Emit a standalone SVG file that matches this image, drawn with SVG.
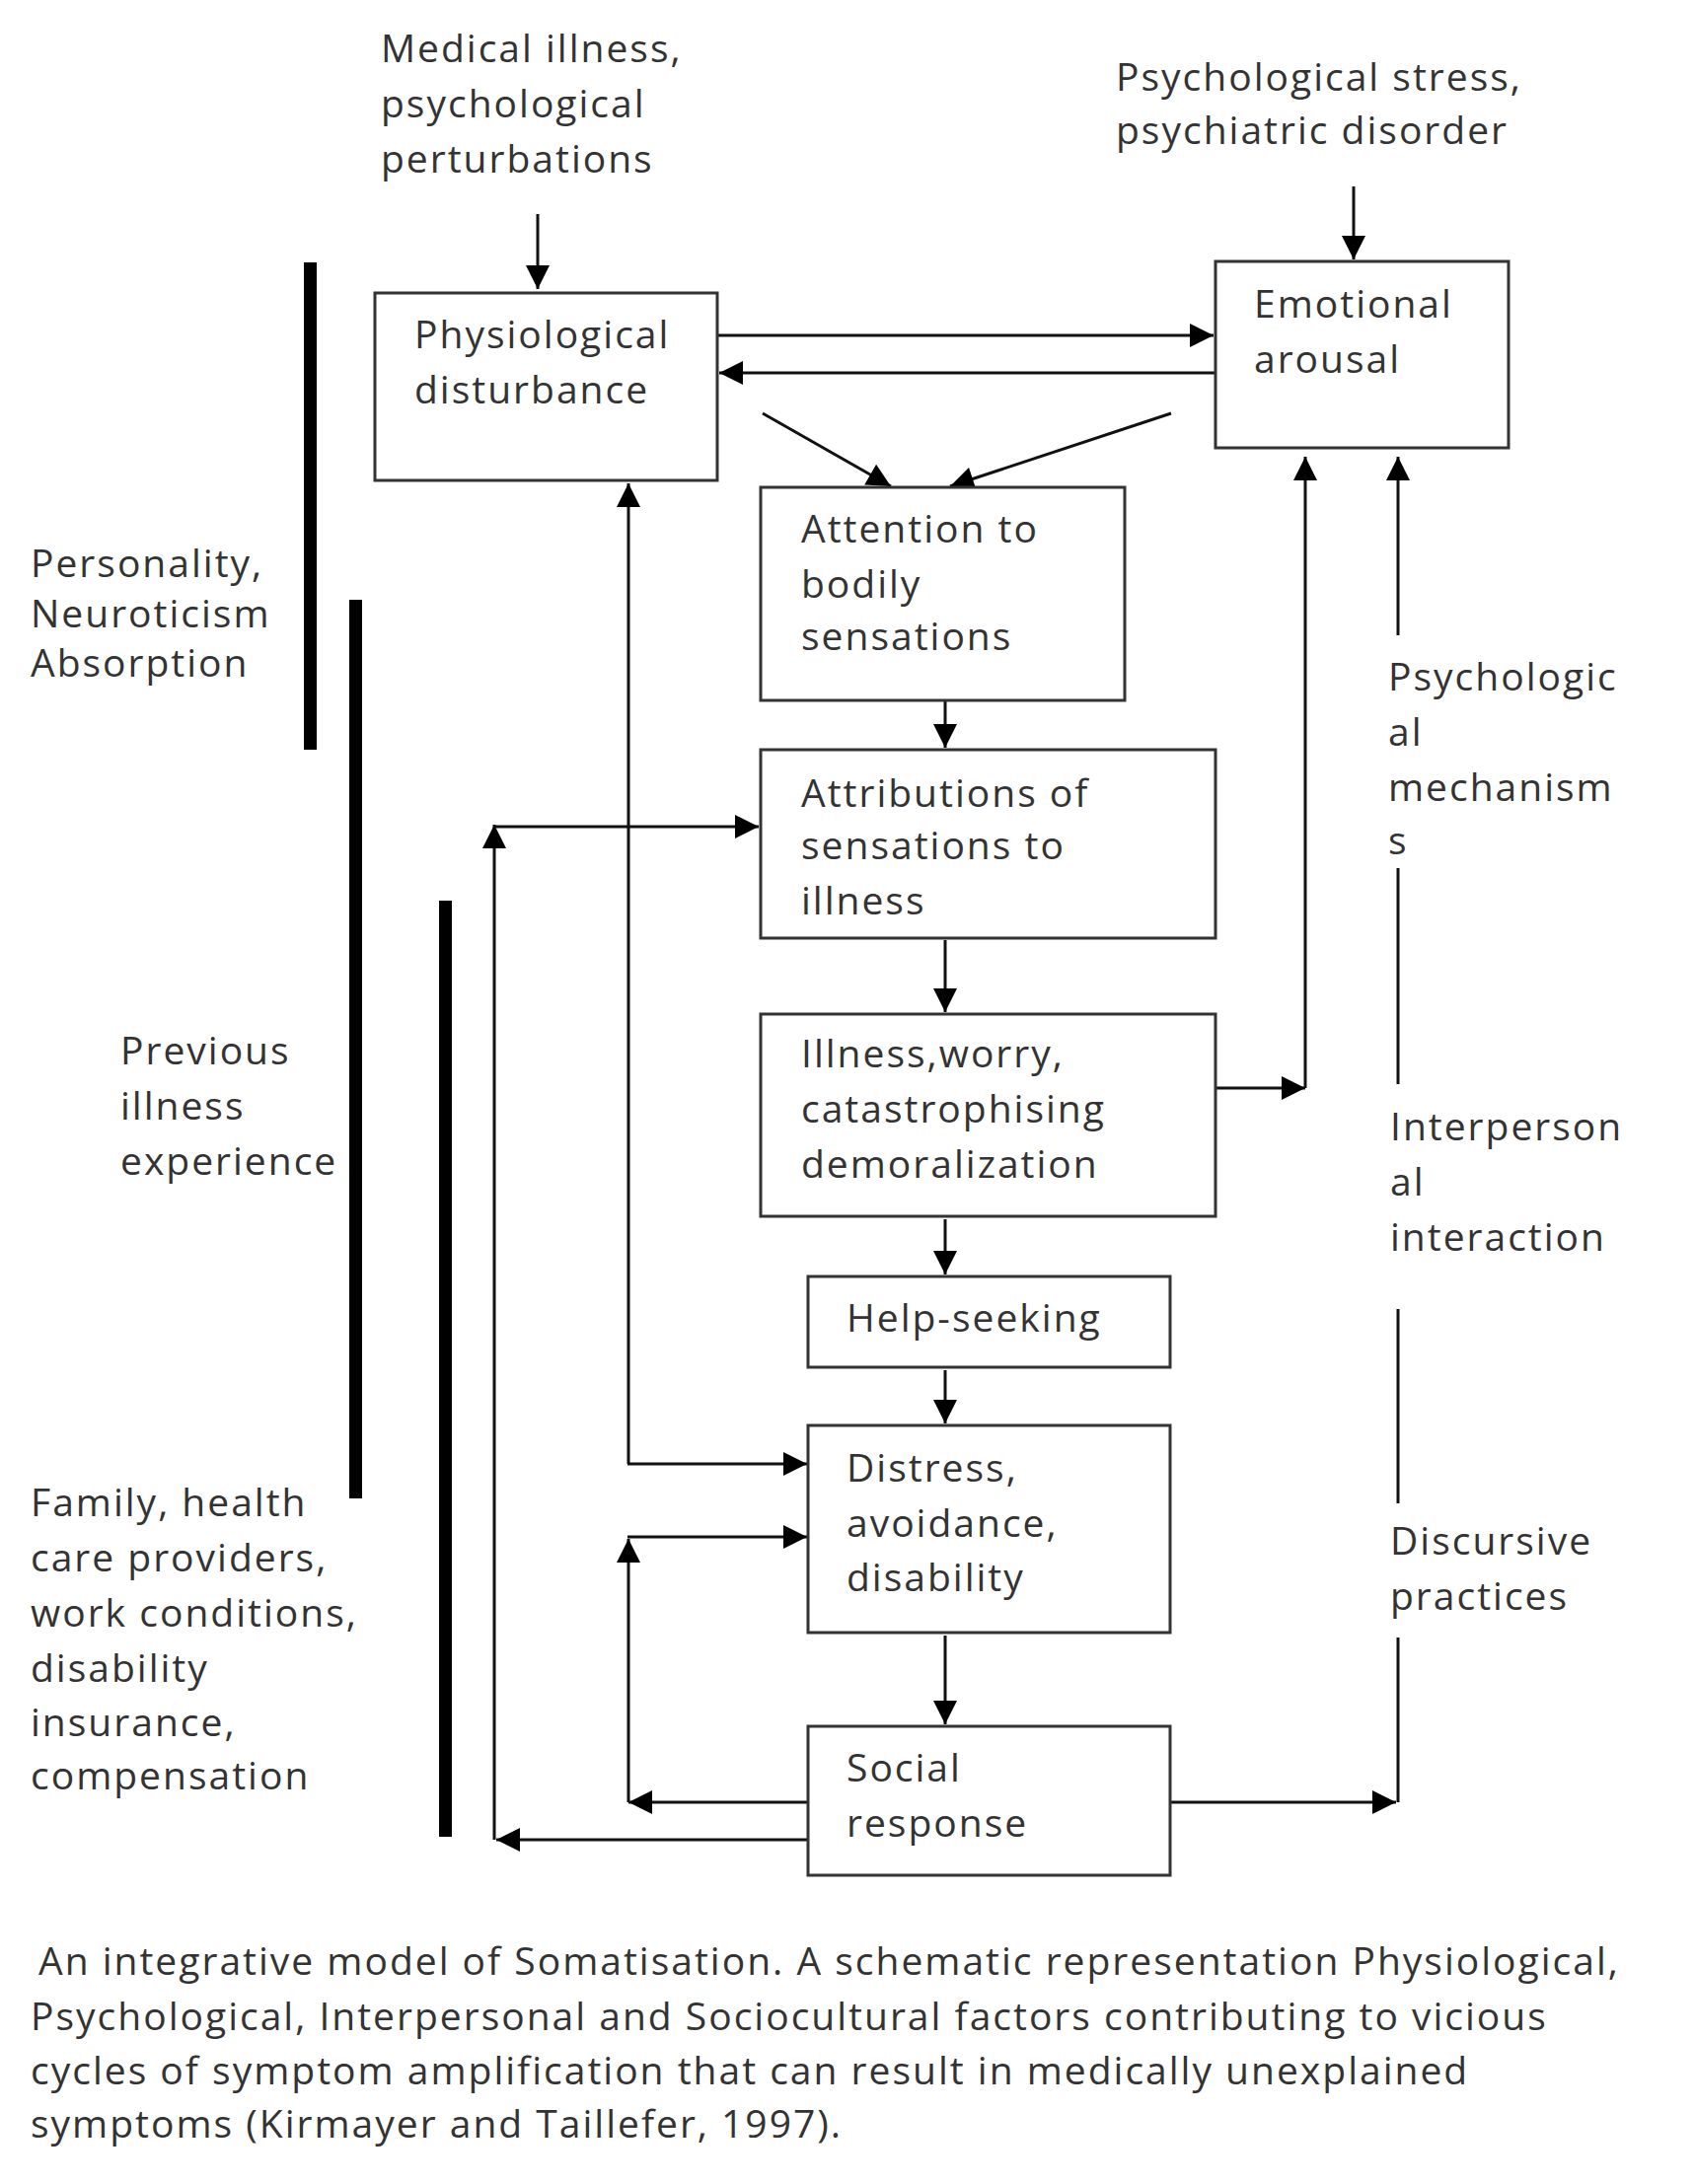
<svg xmlns="http://www.w3.org/2000/svg" width="1717" height="2214" viewBox="0 0 1717 2214">
<style>
text{font-family:"Open Sans","Liberation Sans",sans-serif;font-size:39px;letter-spacing:2px;fill:#333}
.box{fill:#fff;stroke:#333;stroke-width:3}
.c{stroke:#111;stroke-width:3;fill:none}
.bar{fill:#000}
</style>
<defs><marker id="b" viewBox="0 0 10 10" refX="10" refY="5" markerWidth="30" markerHeight="24" markerUnits="userSpaceOnUse" orient="auto"><path d="M0,0L10,5L0,10z" fill="#000"/></marker></defs>
<rect width="1717" height="2214" fill="#fff"/>
<g id="bars"><rect class="bar" x="308" y="266" width="13" height="494"/><rect class="bar" x="354" y="608" width="13" height="911"/><rect class="bar" x="445" y="913" width="13" height="949"/></g>
<g id="connectors">
<line class="c" x1="545" y1="217" x2="545" y2="293" marker-end="url(#b)"/>
<line class="c" x1="1372" y1="189" x2="1372" y2="263" marker-end="url(#b)"/>
<line class="c" x1="727" y1="340" x2="1230" y2="340" marker-end="url(#b)"/>
<line class="c" x1="1232" y1="378" x2="729" y2="378" marker-end="url(#b)"/>
<line class="c" x1="773" y1="419" x2="903" y2="493" marker-end="url(#b)"/>
<line class="c" x1="1187" y1="419" x2="963" y2="493" marker-end="url(#b)"/>
<line class="c" x1="958" y1="686" x2="958" y2="758" marker-end="url(#b)"/>
<line class="c" x1="958" y1="953" x2="958" y2="1026" marker-end="url(#b)"/>
<line class="c" x1="958" y1="1236" x2="958" y2="1292" marker-end="url(#b)"/>
<line class="c" x1="958" y1="1389" x2="958" y2="1443" marker-end="url(#b)"/>
<line class="c" x1="958" y1="1658" x2="958" y2="1748" marker-end="url(#b)"/>
<line class="c" x1="1232" y1="1103" x2="1323" y2="1103" marker-end="url(#b)"/>
<line class="c" x1="1323" y1="1103" x2="1323" y2="463" marker-end="url(#b)"/>
<line class="c" x1="1417" y1="644" x2="1417" y2="463" marker-end="url(#b)"/>
<line class="c" x1="1417" y1="880" x2="1417" y2="1099"/>
<line class="c" x1="1417" y1="1327" x2="1417" y2="1524"/>
<line class="c" x1="1417" y1="1660" x2="1417" y2="1827"/>
<line class="c" x1="1186" y1="1827" x2="1415" y2="1827" marker-end="url(#b)"/>
<line class="c" x1="637" y1="1484" x2="637" y2="490" marker-end="url(#b)"/>
<line class="c" x1="636" y1="1484" x2="818" y2="1484" marker-end="url(#b)"/>
<line class="c" x1="819" y1="1827" x2="637" y2="1827" marker-end="url(#b)"/>
<line class="c" x1="637" y1="1827" x2="637" y2="1560" marker-end="url(#b)"/>
<line class="c" x1="636" y1="1558" x2="818" y2="1558" marker-end="url(#b)"/>
<line class="c" x1="819" y1="1865" x2="503" y2="1865" marker-end="url(#b)"/>
<line class="c" x1="501" y1="1865" x2="501" y2="836" marker-end="url(#b)"/>
<line class="c" x1="500" y1="838" x2="769" y2="838" marker-end="url(#b)"/>
</g>
<g id="phys"><rect class="box" x="380" y="297" width="347" height="190"/><text x="420" y="353">Physiological</text><text x="420" y="409">disturbance</text></g>
<g id="emot"><rect class="box" x="1232" y="265" width="297" height="189"/><text x="1271" y="322">Emotional</text><text x="1271" y="378">arousal</text></g>
<g id="att"><rect class="box" x="771" y="494" width="369" height="216"/><text x="812" y="550">Attention to</text><text x="812" y="606">bodily</text><text x="812" y="659">sensations</text></g>
<g id="attr"><rect class="box" x="771" y="760" width="461" height="191"/><text x="812" y="818">Attributions of</text><text x="812" y="871">sensations to</text><text x="812" y="927">illness</text></g>
<g id="ill"><rect class="box" x="771" y="1028" width="461" height="205"/><text x="812" y="1082">Illness,worry,</text><text x="812" y="1138">catastrophising</text><text x="812" y="1194">demoralization</text></g>
<g id="help"><rect class="box" x="819" y="1294" width="367" height="92"/><text x="858" y="1350">Help-seeking</text></g>
<g id="dist"><rect class="box" x="819" y="1445" width="367" height="210"/><text x="858" y="1502">Distress,</text><text x="858" y="1558">avoidance,</text><text x="858" y="1613">disability</text></g>
<g id="soc"><rect class="box" x="819" y="1750" width="367" height="151"/><text x="858" y="1806">Social</text><text x="858" y="1862">response</text></g>
<g id="labels">
<text x="386" y="63">Medical illness,</text><text x="386" y="119">psychological</text><text x="386" y="175">perturbations</text>
<text x="1131" y="92">Psychological stress,</text><text x="1131" y="146">psychiatric disorder</text>
<text x="31" y="585">Personality,</text><text x="31" y="636">Neuroticism</text><text x="31" y="686">Absorption</text>
<text x="122" y="1079">Previous</text><text x="122" y="1135">illness</text><text x="122" y="1191">experience</text>
<text x="31" y="1537">Family, health</text><text x="31" y="1593">care providers,</text><text x="31" y="1649">work conditions,</text><text x="31" y="1705">disability</text><text x="31" y="1760">insurance,</text><text x="31" y="1814">compensation</text>
<text x="1407" y="700">Psychologic</text><text x="1407" y="756">al</text><text x="1407" y="812">mechanism</text><text x="1407" y="866">s</text>
<text x="1409" y="1156">Interperson</text><text x="1409" y="1212">al</text><text x="1409" y="1268">interaction</text>
<text x="1409" y="1576">Discursive</text><text x="1409" y="1632">practices</text>
</g>
<g id="caption">
<text x="39" y="2002">An integrative model of Somatisation. A schematic representation Physiological,</text>
<text x="31" y="2058">Psychological, Interpersonal and Sociocultural factors contributing to vicious</text>
<text x="31" y="2113">cycles of symptom amplification that can result in medically unexplained</text>
<text x="31" y="2167">symptoms (Kirmayer and Taillefer, 1997).</text>
</g>
</svg>
